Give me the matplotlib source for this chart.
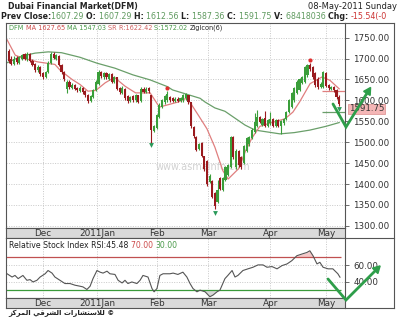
import matplotlib
matplotlib.use("Agg")
import matplotlib.pyplot as plt
from matplotlib.lines import Line2D
from matplotlib.patches import Polygon

# ---------------- data ----------------
opens = [1718, 1700, 1688, 1702, 1690, 1700, 1710, 1698, 1712, 1695,
         1688, 1672, 1680, 1665, 1656, 1668, 1690, 1712, 1700, 1705,
         1685, 1668, 1628, 1645, 1630, 1638, 1630, 1622, 1630, 1622,
         1614, 1598, 1608, 1625, 1640, 1668, 1655, 1665, 1652, 1664,
         1645, 1655, 1630, 1618, 1628, 1610, 1598, 1610, 1600, 1612,
         1598, 1628, 1620, 1630, 1612, 1528, 1535, 1560, 1585, 1595,
         1600, 1608, 1605, 1598, 1604, 1598, 1600, 1605, 1612, 1595,
         1536, 1512, 1485, 1498, 1466, 1455, 1405, 1408, 1378, 1358,
         1415, 1386, 1410, 1422, 1441, 1512, 1440, 1480, 1465, 1450,
         1480, 1495, 1510, 1525, 1540, 1560, 1542, 1558, 1540, 1545,
         1556, 1540, 1552, 1538, 1545, 1555, 1572, 1585, 1600, 1618,
         1625, 1642, 1645, 1660, 1684, 1680, 1666, 1652, 1632, 1632,
         1665, 1636, 1627, 1632, 1625, 1607.29]
closes = [1695, 1688, 1700, 1692, 1703, 1708, 1700, 1712, 1695, 1685,
          1672, 1680, 1662, 1656, 1668, 1690, 1712, 1702, 1708, 1685,
          1668, 1650, 1645, 1632, 1638, 1628, 1625, 1630, 1620, 1612,
          1598, 1610, 1625, 1645, 1668, 1658, 1665, 1655, 1662, 1645,
          1655, 1628, 1620, 1630, 1605, 1598, 1608, 1600, 1612, 1596,
          1628, 1620, 1628, 1622, 1530, 1538, 1565, 1590, 1600, 1610,
          1615, 1600, 1598, 1604, 1598, 1606, 1612, 1615, 1595, 1538,
          1515, 1482, 1495, 1468, 1436, 1400, 1420, 1370, 1348, 1385,
          1388, 1415, 1440, 1445, 1512, 1465, 1480, 1445, 1440, 1490,
          1510, 1512, 1530, 1548, 1560, 1548, 1555, 1540, 1552, 1556,
          1540, 1552, 1540, 1550, 1555, 1572, 1600, 1618, 1630, 1645,
          1650, 1655, 1680, 1684, 1675, 1656, 1637, 1632, 1640, 1668,
          1635, 1630, 1632, 1625, 1607, 1591.75]
highs = [1722, 1705, 1705, 1706, 1707, 1712, 1714, 1716, 1714, 1698,
         1690, 1684, 1682, 1668, 1671, 1693, 1716, 1715, 1712, 1708,
         1688, 1670, 1648, 1648, 1642, 1640, 1633, 1634, 1632, 1625,
         1616, 1613, 1628, 1648, 1672, 1671, 1669, 1668, 1666, 1666,
         1659, 1657, 1633, 1634, 1630, 1612, 1611, 1612, 1615, 1614,
         1631, 1631, 1631, 1633, 1614, 1542, 1568, 1593, 1604, 1613,
         1622, 1611, 1608, 1607, 1607, 1609, 1615, 1618, 1614, 1597,
         1538, 1515, 1498, 1500, 1468, 1458, 1424, 1410, 1380, 1410,
         1418, 1418, 1443, 1448, 1515, 1514, 1483, 1482, 1467, 1493,
         1513, 1515, 1533, 1570, 1577, 1563, 1558, 1575, 1555, 1572,
         1559, 1555, 1555, 1553, 1558, 1575, 1603, 1621, 1633, 1648,
         1653, 1658, 1683, 1688, 1690, 1683, 1669, 1655, 1643, 1671,
         1668, 1639, 1635, 1635, 1628, 1612.56]
lows = [1690, 1684, 1685, 1688, 1687, 1697, 1697, 1695, 1692, 1682,
        1668, 1669, 1658, 1652, 1653, 1665, 1688, 1698, 1697, 1682,
        1664, 1646, 1618, 1628, 1627, 1624, 1620, 1619, 1616, 1608,
        1594, 1596, 1605, 1622, 1638, 1654, 1652, 1651, 1649, 1641,
        1642, 1624, 1616, 1615, 1601, 1594, 1595, 1597, 1597, 1593,
        1596, 1617, 1617, 1618, 1493, 1524, 1532, 1557, 1582, 1592,
        1597, 1597, 1595, 1595, 1595, 1595, 1597, 1602, 1592, 1534,
        1511, 1478, 1482, 1464, 1432, 1396, 1402, 1366, 1340, 1355,
        1385, 1383, 1407, 1419, 1438, 1461, 1437, 1441, 1436, 1447,
        1477, 1492, 1507, 1522, 1537, 1545, 1539, 1537, 1537, 1542,
        1537, 1537, 1537, 1520, 1542, 1552, 1569, 1582, 1597, 1615,
        1622, 1639, 1642, 1657, 1671, 1652, 1633, 1628, 1629, 1629,
        1631, 1626, 1624, 1621, 1603, 1587.36]

# short moving average (red) and long moving average (green), sampled points
ma_short_idx = [-0.6, 2.5, 5, 11, 17.5, 19.5, 24, 27, 30, 33, 36.5, 40, 44, 48,
                53.5, 57, 64, 67.5, 72, 75, 78, 81, 83, 87, 89.5, 92, 95, 99,
                104.5, 107.5, 110, 114, 118.5, 121.5, 125]
ma_short_val = [1745, 1708, 1702, 1692, 1686, 1672, 1650, 1638, 1622, 1624, 1642,
                1655, 1634, 1618, 1618, 1584, 1596, 1606, 1562, 1532, 1488, 1432,
                1412, 1437, 1478, 1510, 1538, 1546, 1556, 1572, 1596, 1640, 1656,
                1648, 1627.65]
ma_long_idx = [-0.6, 5, 10, 15, 20, 27, 33.4, 40.2, 47, 53.5, 60, 62, 72.4, 74.3,
               78, 81.8, 89.4, 93.2, 102.6, 108, 113.9, 120, 125]
ma_long_val = [1690, 1706, 1713, 1716, 1714, 1703, 1689, 1677, 1661, 1649, 1633,
               1625, 1605, 1596, 1582, 1574, 1541, 1529, 1520, 1523, 1529, 1538,
               1547.03]

# zig-zag icons
zig_top_idx = [60, 114]
zig_top_val = [1630, 1697]
zig_bot_idx = [54, 78, 125]
zig_bot_val = [1493, 1330, 1580]

# support / resistance
sr_r = 1622.42
sr_s = 1572.02

# RSI samples
rsi_idx = [-0.6, 1.3, 2.4, 3.6, 5.4, 6.9, 8.1, 9.2, 10.7, 11.9, 13.8, 14.9, 16.4,
           17.5, 19.4, 21.3, 23.2, 25.1, 27.0, 28.1, 29.6, 30.8, 31.9, 33.4, 34.6,
           35.7, 37.2, 38.3, 40.2, 41.4, 42.9, 44.0, 45.1, 46.6, 48.5, 49.7, 50.8,
           52.7, 54.2, 55.0, 56.1, 57.2, 58.4, 61.0, 62.2, 64.0, 65.9, 67.4, 68.6,
           69.7, 71.2, 72.4, 74.3, 76.1, 77.3, 78.8, 79.9, 81.8, 82.9, 84.5, 85.6,
           86.7, 88.6, 90.5, 92.4, 94.3, 96.2, 97.7, 99.6, 101.5, 103.4, 105.3,
           107.1, 109.0, 110.9, 112.8, 113.9, 115.1, 116.6, 117.7, 118.9, 120.8,
           122.6, 124.5, 125.3]
rsi_val = [49.6, 45.7, 47.6, 43.8, 47.6, 41.8, 42.6, 39.8, 41.8, 45.7, 49.6, 53.5,
           50.4, 45.7, 41.8, 37.9, 37.9, 35.9, 34.7, 33.9, 30.8, 34.7, 43.8, 53.5,
           51.5, 50.4, 52.7, 49.6, 48.8, 41.8, 38.6, 41.8, 37.9, 39.8, 37.9, 41.8,
           47.6, 45.7, 32.0, 28.0, 32.0, 47.6, 49.6, 49.6, 50.4, 48.8, 51.5, 45.7,
           37.9, 32.0, 28.0, 30.0, 28.0, 22.1, 24.1, 28.0, 30.0, 43.8, 47.6, 53.5,
           45.7, 47.6, 53.5, 55.5, 57.4, 60.2, 60.2, 57.4, 58.2, 55.5, 59.4, 61.4,
           65.3, 71.2, 73.2, 75.1, 77.1, 71.2, 61.4, 63.3, 57.4, 55.5, 55.5, 49.6,
           45.48]

month_pos = [13, 33.5, 56, 75.5, 99, 120]
month_lab = ["Dec", "2011Jan", "Feb", "Mar", "Apr", "May"]
price_ticks = [1300, 1350, 1400, 1450, 1500, 1550, 1600, 1650, 1700, 1750]
rsi_ticks = [40, 60]

# ---------------- layout helpers ----------------
W, H = 400, 322
plt.rcParams['font.family'] = ['DejaVu Sans']
fig = plt.figure(figsize=(W / 100, H / 100), dpi=100)
fig.patch.set_facecolor("white")

def rect(x0, y0, x1, y1):
    return [x0 / W, 1 - y1 / H, (x1 - x0) / W, (y1 - y0) / H]

def fx(x):
    return x / W

def fy(y):
    return 1 - y / H

GREEN = "#3a9e3a"
RED = "#9a1a1e"
DARK = "#333333"
GRID = "#c8c8c8"
BORDER = "#555555"
XL = (-1.0, 127.2)

renderer = fig.canvas.get_renderer()

def ctext(x, y, parts, size, gap=0.0):
    cur = x
    for s, col, wt in parts:
        t = fig.text(fx(cur), fy(y), s, color=col, fontsize=size, fontweight=wt,
                     va="center", ha="left")
        bb = t.get_window_extent(renderer)
        cur += bb.width + gap
    return cur

# ---------------- main price panel ----------------
ax = fig.add_axes(rect(6, 23, 345, 228))
ax.set_xlim(*XL)
ax.set_ylim(1295, 1785)
ax.set_xticks(month_pos)
ax.set_yticks(price_ticks)
ax.grid(True, color=GRID, linestyle=(0, (1, 1.5)), linewidth=0.7)
ax.set_axisbelow(True)
ax.tick_params(axis="x", length=0, labelbottom=False)
ax.yaxis.tick_right()
ax.tick_params(axis="y", length=3, width=0.6, color=BORDER, pad=3,
               labelsize=6.3, labelcolor=DARK)
ax.set_yticklabels([f"{v:.2f}" for v in price_ticks])
for sp in ax.spines.values():
    sp.set_color(BORDER)
    sp.set_linewidth(0.8)

idx = list(range(len(closes)))
cols = [GREEN if c >= o else RED for o, c in zip(opens, closes)]
ax.vlines(idx, lows, highs, colors=cols, linewidth=0.8, zorder=3)
ax.bar(idx, [max(abs(c - o), 1.5) for o, c in zip(opens, closes)],
       bottom=[min(o, c) for o, c in zip(opens, closes)],
       width=0.8, color=cols, linewidth=0, zorder=4)

ax.plot(ma_long_idx, ma_long_val, color="#6a9f6a", linewidth=0.9, zorder=2)
ax.plot(ma_short_idx, ma_short_val, color="#e07f7f", linewidth=0.9, zorder=2)

ax.hlines([sr_r], 118.5, XL[1], colors="#e07f7f", linewidth=0.9, zorder=2)
ax.hlines([sr_s], 118.5, XL[1], colors="#6a9f6a", linewidth=0.9, zorder=2)

ax.scatter(zig_top_idx, zig_top_val, s=9, color="#e03030", marker="o", zorder=5,
           linewidths=0)
ax.scatter(zig_bot_idx, zig_bot_val, s=12, color="#2a9a5a", marker="v", zorder=5,
           linewidths=0)

ax.text(0.44, 0.30, "www.asmainfo.com", transform=ax.transAxes, fontsize=7,
        color="#d2d2d2", ha="left", va="center", zorder=1)

# legend row
ctext(9, 27.5, [("DFM ", "#4a9a4a", "normal"), ("MA 1627.65 ", "#cc4a4a", "normal"),
                ("MA 1547.03 ", "#4a9a4a", "normal"), ("SR ", "#d06060", "normal"),
                ("R:1622.42 ", "#d06060", "normal"), ("S:1572.02 ", "#4a9a4a", "normal"),
                ("ZigIcon(6)", "#222222", "normal")], 4.7)

# ---------------- date strips ----------------
def date_strip(y0, y1):
    a = fig.add_axes(rect(6, y0, 345, y1))
    a.set_xlim(*XL)
    a.set_ylim(0, 1)
    a.set_facecolor("#dadada")
    a.set_xticks([])
    a.set_yticks([])
    for sp in a.spines.values():
        sp.set_color(BORDER)
        sp.set_linewidth(0.8)
    for p, lab in zip(month_pos, month_lab):
        a.text(p, 0.45, lab, ha="center", va="center", fontsize=6.4, color=DARK,
               transform=a.get_xaxis_transform())
    return a

date_strip(228, 238)

# ---------------- RSI panel ----------------
ar = fig.add_axes(rect(6, 238, 345, 298))
ar.set_xlim(*XL)
ar.set_ylim(20.6, 92.4)
ar.set_xticks(month_pos)
ar.set_yticks(rsi_ticks)
ar.grid(True, color=GRID, linestyle=(0, (1, 1.5)), linewidth=0.7)
ar.set_axisbelow(True)
ar.tick_params(axis="x", length=0, labelbottom=False)
ar.yaxis.tick_right()
ar.tick_params(axis="y", length=3, width=0.6, color=BORDER, pad=3,
               labelsize=6.3, labelcolor=DARK)
ar.set_yticklabels([f"{v:.2f}" for v in rsi_ticks])
for sp in ar.spines.values():
    sp.set_color(BORDER)
    sp.set_linewidth(0.8)

ar.hlines([70], XL[0], 125.5, colors="#c05050", linewidth=0.9, zorder=2)
ar.hlines([30], XL[0], 125.5, colors="#3a9a3a", linewidth=0.9, zorder=2)
ar.fill_between(rsi_idx, rsi_val, 70, where=[v > 70 for v in rsi_val],
                interpolate=True, color="#f4c8c8", zorder=1, linewidth=0)
ar.fill_between(rsi_idx, rsi_val, 30, where=[v < 30 for v in rsi_val],
                interpolate=True, color="#d8d8d8", zorder=1, linewidth=0)
ar.plot(rsi_idx, rsi_val, color="#555555", linewidth=0.8, zorder=3)

ctext(9, 245, [("Relative Stock Index RSI:45.48 ", "#222222", "normal"),
               ("70.00 ", "#cc4a4a", "normal"), ("30.00", "#4a9a4a", "normal")], 5.6)

date_strip(298, 308)

# right-hand axis frame lines
for (x0, y0, x1, y1) in [(345, 23, 394, 23), (394, 23, 394, 308), (345, 308, 394, 308),
                         (345, 238, 394, 238)]:
    fig.add_artist(Line2D([fx(x0), fx(x1)], [fy(y0), fy(y1)], color=BORDER,
                          linewidth=0.8))

# ---------------- header ----------------
fig.text(fx(8), fy(6.5), "Dubai Financial Market(DFM)", fontsize=5.7,
         fontweight="bold", color="#222222", va="center", ha="left")
fig.text(fx(397), fy(6.5), "08-May-2011 Sunday", fontsize=6.0, color="#222222",
         va="center", ha="right")
VAL = "#5f9a5f"
ctext(1, 16.5, [("Prev Close:", "#222222", "bold"), ("1607.29 ", VAL, "normal"),
                ("O: ", "#222222", "bold"), ("1607.29 ", VAL, "normal"),
                ("H: ", "#222222", "bold"), ("1612.56 ", VAL, "normal"),
                ("L: ", "#222222", "bold"), ("1587.36 ", VAL, "normal"),
                ("C: ", "#222222", "bold"), ("1591.75 ", VAL, "normal"),
                ("V: ", "#222222", "bold"), ("68418036 ", VAL, "normal"),
                ("Chg: ", "#222222", "bold"), ("-15.54(-0", "#cc3333", "normal")],
      5.7)

# price tag
fig.text(fx(366.5), fy(109), "1591.75", fontsize=6.2, color="#333333", ha="center",
         va="center",
         bbox=dict(boxstyle="square,pad=0.06", facecolor="#f4b6b6",
                   edgecolor="#e09a9a", linewidth=0.6))

# ---------------- hand-drawn green arrows ----------------
AG = "#2e9e4a"
def check_arrow(p0, p1, p2, head=7):
    xs = [fx(p0[0]), fx(p1[0]), fx(p2[0])]
    ys = [fy(p0[1]), fy(p1[1]), fy(p2[1])]
    fig.add_artist(Line2D(xs, ys, color=AG, linewidth=2.0, solid_capstyle="round",
                          solid_joinstyle="miter", zorder=10))
    dx, dy = p2[0] - p1[0], p2[1] - p1[1]
    n = (dx * dx + dy * dy) ** 0.5
    ux, uy = dx / n, dy / n
    px, py = -uy, ux
    tip = (p2[0] + ux * 3, p2[1] + uy * 3)
    b1 = (tip[0] - ux * head + px * head * 0.55, tip[1] - uy * head + py * head * 0.55)
    b2 = (tip[0] - ux * head - px * head * 0.55, tip[1] - uy * head - py * head * 0.55)
    tri = Polygon([[fx(tip[0]), fy(tip[1])], [fx(b1[0]), fy(b1[1])], [fx(b2[0]), fy(b2[1])]],
                  closed=True, facecolor=AG, edgecolor=AG, transform=fig.transFigure,
                  zorder=10)
    fig.add_artist(tri)

check_arrow((333, 104), (346, 127), (369, 90))
check_arrow((328, 279), (346, 300), (378, 268))

# ---------------- footer (Arabic, pre-shaped presentation forms) ----------------
w1 = "\uFEB0\uFEDB\uFEAE\uFEE4\uFEDF\uFE8D"          # المركز
w2 = "\uFEF2\uFED7\uFEAE\uFEB8\uFEDF\uFE8D"          # الشرقي
w3 = "\uFE95\uFE8D\uFEAD\uFE8E\uFEB8\uFE98\uFEB3\uFEFC\uFEDF"  # للاستشارات
fig.text(fx(8), fy(313), f"{w1} {w2} {w3} \u00A9", fontsize=5.0, fontweight="bold",
         color="#222222", va="center", ha="left")

fig.savefig("out.png", dpi=100, facecolor="white")
